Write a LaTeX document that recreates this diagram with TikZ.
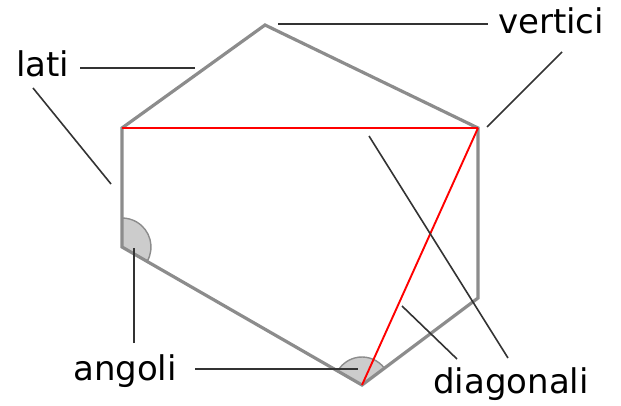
\documentclass[tikz,border=0pt]{standalone}
\usepackage{fontspec}
\setmainfont{DejaVu Sans}
\begin{document}
\begin{tikzpicture}[x=1pt,y=1pt,
  side/.style={draw=gray!90, line width=3.2pt, line join=miter},
  diag/.style={draw=red, line width=1.9pt},
  lead/.style={draw=black!80, line width=1.6pt},
  lbl/.style={font=\fontsize{34}{40}\selectfont, inner sep=0pt, anchor=base west},
  wedgefill/.style={fill=black!20, draw=gray!90, line width=1.4pt}]
\useasboundingbox (0,0) rectangle (621,405);
% vertices
\coordinate (A) at (265,380);
\coordinate (B) at (122,277);
\coordinate (C) at (122,158);
\coordinate (D) at (362,20);
\coordinate (E) at (478,107);
\coordinate (F) at (478,277);
% angle wedges
\path[wedgefill] (C) -- ++(-29.9:29) arc[start angle=-29.9, end angle=90, radius=29] -- cycle;
\path[wedgefill] (D) -- ++(36.9:28) arc[start angle=36.9, end angle=150.1, radius=28] -- cycle;
% polygon
\draw[side] (A) -- (B) -- (C) -- (D) -- (E) -- (F) -- cycle;
% diagonals
\draw[diag] (B) -- (F);
\draw[diag] (F) -- (D);
% labels
\node[lbl] (lati) at (16,328) {lati};
\node[lbl] (vertici) at (498,371) {vertici};
\node[lbl] (angoli) at (73,25) {angoli};
\node[lbl] (diagonali) at (433,12) {diagonali};
% leader line ends
\coordinate (l1a) at (80,337);  \coordinate (l1b) at (195,337);
\coordinate (l2a) at (33,317);  \coordinate (l2b) at (111,221);
\coordinate (v1a) at (278,381); \coordinate (v1b) at (488,381);
\coordinate (v2a) at (562,353); \coordinate (v2b) at (487,278);
\coordinate (a1a) at (195,36);  \coordinate (a1b) at (358,36);
\coordinate (a2a) at (134,62);  \coordinate (a2b) at (134,157);
\coordinate (d1a) at (508,47);  \coordinate (d1b) at (369,269);
\coordinate (d2a) at (457,46);  \coordinate (d2b) at (402,99);
\draw[lead] (l1a) -- (l1b);
\draw[lead] (l2a) -- (l2b);
\draw[lead] (v1a) -- (v1b);
\draw[lead] (v2a) -- (v2b);
\draw[lead] (a1a) -- (a1b);
\draw[lead] (a2a) -- (a2b);
\draw[lead] (d1a) -- (d1b);
\draw[lead] (d2a) -- (d2b);
\end{tikzpicture}
\end{document}
